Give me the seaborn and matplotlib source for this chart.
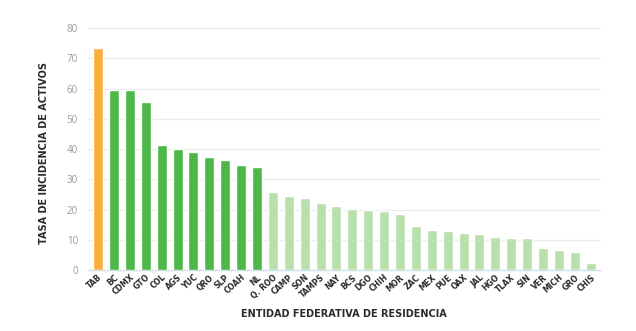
import matplotlib
matplotlib.use("Agg")
import matplotlib.pyplot as plt
import seaborn as sns
import pandas as pd

states = ["TAB", "BC", "CDMX", "GTO", "COL", "AGS", "YUC", "QRO", "SLP", "COAH", "NL",
          "Q. ROO", "CAMP", "SON", "TAMPS", "NAY", "BCS", "DGO", "CHIH", "MOR", "ZAC",
          "MEX", "PUE", "OAX", "JAL", "HGO", "TLAX", "SIN", "VER", "MICH", "GRO", "CHIS"]
rates = [73.3, 59.4, 59.4, 55.6, 41.4, 39.9, 39.0, 37.4, 36.4, 34.9, 34.0,
         25.7, 24.6, 23.8, 22.2, 21.2, 20.1, 20.0, 19.5, 18.6, 14.6,
         13.2, 13.0, 12.3, 12.0, 11.0, 10.6, 10.5, 7.3, 6.5, 6.1, 2.2]
groups = ["alto"] + ["medio"] * 10 + ["bajo"] * 21
palette = {"alto": "#FBB03B", "medio": "#4DB847", "bajo": "#B9E0AC"}

df = pd.DataFrame({"estado": states, "tasa": rates, "grupo": groups})

sns.set_theme(style="white")
plt.rcParams["font.family"] = ["Open Sans", "DejaVu Sans"]

fig = plt.figure(figsize=(6.36, 3.31), dpi=100)
ax = fig.add_axes([0.138, 0.184, 0.807, 0.731])

sns.barplot(data=df, x="estado", y="tasa", hue="grupo", palette=palette,
            dodge=False, width=0.63, saturation=1, legend=False, ax=ax, zorder=3)

ax.set_ylim(0, 80)
ax.set_xlim(-0.65, 31.65)
ax.set_yticks(range(0, 81, 10))
ax.yaxis.grid(True, color="#ececec", linewidth=0.8, zorder=0)
ax.set_axisbelow(True)
for s in ["top", "right", "left"]:
    ax.spines[s].set_visible(False)
ax.spines["bottom"].set_color("#cfdfe6")
ax.spines["bottom"].set_linewidth(1.0)

ax.tick_params(axis="y", length=0, labelsize=7, labelcolor="#999999", pad=7)
ax.tick_params(axis="x", length=0, labelsize=5.6, labelcolor="#2b2b2b", pad=2)
for lbl in ax.get_xticklabels():
    lbl.set_rotation(42)
    lbl.set_ha("right")
    lbl.set_rotation_mode("anchor")
    lbl.set_fontweight("bold")
    lbl.set_family(["DejaVu Sans"])

ax.set_ylabel("TASA DE INCIDENCIA DE ACTIVOS", fontsize=7, fontweight="bold",
              color="#2b2b2b", family=["DejaVu Sans"])
ax.set_xlabel("ENTIDAD FEDERATIVA DE RESIDENCIA", fontsize=7, fontweight="bold",
              color="#2b2b2b", family=["DejaVu Sans"])
ax.yaxis.set_label_coords(-0.076, 0.483)
ax.xaxis.set_label_coords(0.499, -0.161)

fig.savefig("out.png", dpi=100, facecolor="white")
